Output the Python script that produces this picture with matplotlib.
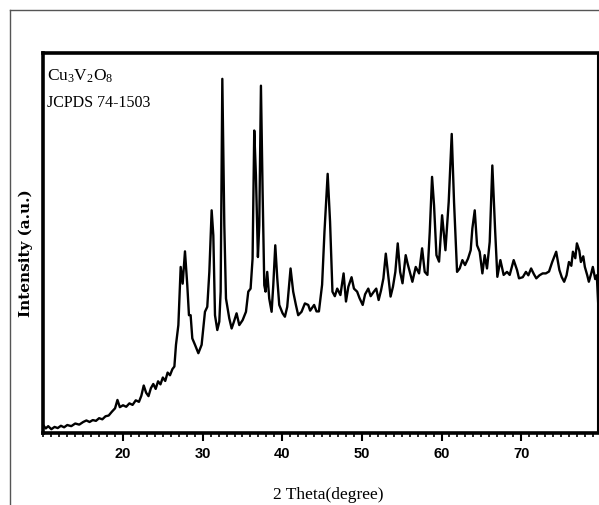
import matplotlib
matplotlib.use('Agg')
import matplotlib.pyplot as plt
from matplotlib.lines import Line2D
from matplotlib.ticker import FixedLocator, MultipleLocator

plt.rcParams['mathtext.fontset'] = 'custom'
plt.rcParams['mathtext.rm'] = 'Liberation Serif'
plt.rcParams['mathtext.it'] = 'Liberation Serif:italic'

# 2 theta (degree) and intensity (a.u.)
two_theta = [10.0, 10.3, 10.6, 11.0, 11.4, 11.8, 12.2, 12.6, 13.0, 13.5,
             14.0, 14.5, 15.0, 15.4, 15.8, 16.2, 16.6, 17.0, 17.4, 17.8,
             18.2, 18.6, 19.0, 19.3, 19.6, 20.0, 20.4, 20.8, 21.2, 21.6,
             22.0, 22.3, 22.6, 22.9, 23.2, 23.5, 23.8, 24.1, 24.4, 24.7,
             25.0, 25.3, 25.6, 25.9, 26.2, 26.45,
             26.65, 26.95, 27.24, 27.49, 27.78, 28.07, 28.28, 28.49, 28.7, 29.04,
             29.46, 29.87, 30.29, 30.58, 30.84, 31.13, 31.34, 31.55, 31.84, 32.09,
             32.26, 32.47, 32.72, 32.93, 33.34, 33.64, 33.93, 34.26, 34.6, 35.02,
             35.44, 35.73, 36.02, 36.27, 36.48, 36.69, 36.94, 37.11, 37.32, 37.53,
             37.74, 37.9, 38.11, 38.36, 38.66, 38.87, 39.12, 39.37, 39.62, 40.04,
             40.33, 40.62, 41.04, 41.37, 41.71, 42.0, 42.42, 42.84, 43.26, 43.5,
             44.0, 44.3, 44.6, 45.0, 45.3, 45.7, 46.0, 46.3, 46.6, 46.9,
             47.3, 47.7, 48.0, 48.3, 48.7, 49.0, 49.4, 49.7, 50.1, 50.4,
             50.8, 51.1, 51.5, 51.8, 52.1, 52.4, 52.7, 53.0, 53.3, 53.6,
             53.9, 54.2, 54.5, 54.8, 55.1, 55.5, 55.75,
             56.01, 56.34, 56.76, 57.18, 57.56, 57.89, 58.23, 58.52, 58.81, 59.06,
             59.36, 59.69, 60.07, 60.49, 60.9, 61.28, 61.57, 61.95, 62.28, 62.62,
             62.95, 63.33, 63.66, 63.87, 64.17, 64.46, 64.79, 65.13, 65.42, 65.71,
             66.05, 66.38, 66.72, 67.01, 67.39, 67.8, 68.22, 68.56, 69.06, 69.48,
             69.73, 70.2, 70.6, 70.9, 71.25, 71.6, 71.9, 72.3, 72.7, 73.1,
             73.5, 73.9, 74.4, 74.8, 75.1, 75.4, 75.7, 76.0, 76.3, 76.5,
             76.8, 77.0, 77.3, 77.5, 77.8, 78.0, 78.3, 78.5, 78.8, 79.0,
             79.3, 79.5, 79.7]
intensity = [2.0, 1.2, 1.8, 1.0, 1.6, 1.3, 1.9, 1.5, 2.1, 1.8,
             2.5, 2.2, 2.9, 3.3, 2.9, 3.4, 3.2, 3.9, 3.6, 4.4,
             4.6, 5.6, 6.5, 8.7, 6.8, 7.3, 6.9, 7.8, 7.4, 8.6,
             8.2, 9.8, 12.5, 10.6, 9.7, 11.8, 12.9, 11.6, 13.6, 12.8,
             14.6, 13.7, 15.9, 15.2, 16.8, 17.5,
             23.2, 28.4, 43.7, 39.3, 47.8, 38.9, 31.0, 31.0, 24.9, 23.2,
             21.0, 23.2, 31.9, 33.2, 42.4, 58.6, 52.0, 31.0, 27.1, 29.3,
             37.2, 93.2, 54.7, 35.4, 30.2, 27.5, 29.3, 31.5, 28.4, 29.7,
             31.9, 37.2, 38.0, 45.9, 79.6, 67.8, 46.3, 54.7, 91.4, 63.4,
             38.9, 37.2, 42.4, 35.4, 31.9, 38.9, 49.4, 40.7, 33.7, 31.5,
             30.6, 33.2, 43.3, 37.2, 33.7, 31.0, 31.9, 34.1, 33.7, 32.2,
             33.7, 32.0, 32.0, 39.0, 53.0, 68.2, 55.6, 37.2, 36.0, 38.0,
             36.3, 42.0, 34.6, 38.5, 41.0, 38.0, 37.2, 35.5, 33.7, 36.5,
             38.0, 36.0, 37.2, 38.0, 35.0, 37.5, 40.7, 47.2, 41.5, 35.9,
             38.5, 42.4, 49.9, 42.4, 39.4, 46.8, 44.5,
             42.4, 39.8, 43.7, 42.0, 48.6, 42.4, 41.6, 52.9, 67.4, 59.9,
             46.8, 45.1, 57.3, 48.1, 60.8, 78.7, 60.8, 42.4, 43.3, 45.5,
             44.2, 45.9, 48.1, 53.8, 58.6, 49.4, 47.7, 42.0, 46.8, 43.3,
             50.3, 70.4, 53.8, 41.1, 45.5, 41.6, 42.4, 41.6, 45.5, 42.9,
             40.7, 41.0, 42.4, 41.5, 43.3, 41.8, 40.7, 41.5, 42.0, 42.0,
             42.5, 45.0, 47.7, 42.9, 41.0, 39.8, 41.5, 45.0, 44.0, 47.7,
             46.0, 49.9, 48.0, 45.0, 46.5, 43.7, 41.5, 39.8, 42.0, 43.7,
             40.5, 41.5, 33.0]

XLIM = (9.95, 79.65)
YLIM = (0, 100)
MAJOR_TICKS = [20, 30, 40, 50, 60, 70]

fig = plt.figure(figsize=(5.99, 5.05), dpi=100)
ax = fig.add_axes([43 / 599, 1 - 433 / 505, 555 / 599, 380 / 505])

ax.plot(two_theta, intensity, color='black', linewidth=1.7)
ax.set_xlim(*XLIM)
ax.set_ylim(*YLIM)

# ticks only along the bottom
ax.xaxis.set_major_locator(FixedLocator(MAJOR_TICKS))
ax.xaxis.set_minor_locator(MultipleLocator(1))
ax.tick_params(axis='x', which='major', direction='out', length=6, width=1.5, pad=4)
ax.tick_params(axis='x', which='minor', direction='out', length=3, width=1.2)
ax.set_yticks([])
for lbl in ax.get_xticklabels():
    lbl.set_fontfamily('Liberation Sans')
    lbl.set_fontweight('bold')
    lbl.set_fontsize(10.5)

for side in ['top', 'left', 'bottom']:
    ax.spines[side].set_linewidth(2.6)
ax.spines['right'].set_linewidth(1.5)

ax.set_xlabel('2 Theta(degree)', family='Liberation Serif', fontsize=12.5)
ax.xaxis.set_label_coords(0.514, -0.142)
ax.set_ylabel('Intensity (a.u.)', family='DejaVu Serif', fontsize=11,
              fontweight='bold')
ax.yaxis.set_label_coords(-0.018, 0.474)

ax.text(0.007, 0.94, r'Cu$_3$V$_2$O$_8$', transform=ax.transAxes,
        family='Liberation Serif', fontsize=12.5, va='center', ha='left')
ax.text(0.007, 0.868, 'JCPDS 74-1503', transform=ax.transAxes,
        family='Liberation Serif', fontsize=11.5, va='center', ha='left')

# gray frame around the figure (top and left edges)
fig.add_artist(Line2D([10 / 599, 10 / 599], [0, 1 - 10 / 505],
                      transform=fig.transFigure, color='#555555', linewidth=1))
fig.add_artist(Line2D([10 / 599, 1], [1 - 10 / 505, 1 - 10 / 505],
                      transform=fig.transFigure, color='#555555', linewidth=1))

fig.savefig('out.png', dpi=100)
